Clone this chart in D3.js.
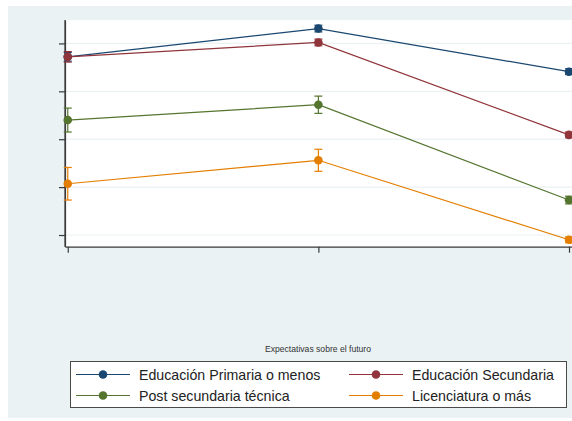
<!DOCTYPE html>
<html>
<head>
<meta charset="utf-8">
<script src="https://cdn.jsdelivr.net/npm/d3@7"></script>
<style>
  html, body { margin: 0; padding: 0; background: #ffffff; }
  svg { display: block; font-family: "Liberation Sans", Arial, sans-serif; }
</style>
</head>
<body>
<svg id="chart" width="572" height="421"></svg>
<script>
// Categories on the x axis (three periods, unlabeled ticks)
const categories = [1, 2, 3];

// Series names and colours
const seriesNames = ["Educación Primaria o menos", "Educación Secundaria", "Post secundaria técnica", "Licenciatura o más"];
const seriesColors = ["#1a476f", "#90353b", "#55752f", "#e37e00"];

// Predicted values per series (one per category)
const primaria    = [4.72, 5.31, 4.41];
const secundaria  = [4.72, 5.02, 3.09];
const postsec     = [3.40, 3.72, 1.73];
const licenciatura = [2.07, 2.56, 0.90];

// Half-width of the confidence interval per series
const primariaCI    = [0.09, 0.07, 0.06];
const secundariaCI  = [0.11, 0.07, 0.06];
const postsecCI     = [0.25, 0.18, 0.08];
const licenciaturaCI = [0.34, 0.23, 0.06];

// Axis ticks (labels not shown)
const yTicks = [1, 2, 3, 4, 5];
const xTicks = [1, 2, 3];
const xTitle = "Expectativas sobre el futuro";

const seriesValues = [primaria, secundaria, postsec, licenciatura];
const seriesCI = [primariaCI, secundariaCI, postsecCI, licenciaturaCI];

const svg = d3.select("#chart");
const W = 572, H = 421;

// Graph background
svg.append("rect").attr("x", 8).attr("y", 6).attr("width", W - 8).attr("height", 412)
  .attr("fill", "#eaf2f3");

const plot = { left: 65, top: 20, right: 572, bottom: 246.7 };

// Plot region
svg.append("rect").attr("x", plot.left).attr("y", plot.top)
  .attr("width", plot.right - plot.left).attr("height", plot.bottom - plot.top)
  .attr("fill", "#ffffff");

const x = d3.scaleLinear().domain([0.989, 3.012]).range([plot.left, plot.right]);
const y = d3.scaleLinear().domain([0.756, 5.489]).range([plot.bottom, plot.top]);

// Gridlines
svg.append("g").selectAll("line").data(yTicks).join("line")
  .attr("x1", plot.left).attr("x2", plot.right)
  .attr("y1", d => y(d)).attr("y2", d => y(d))
  .attr("stroke", "#eaf2f3").attr("stroke-width", 1.2);

// Y axis
const yAxis = svg.append("g").attr("transform", `translate(${plot.left},0)`)
  .call(d3.axisLeft(y).tickValues(yTicks).tickFormat("").tickSize(6).tickSizeOuter(0));
yAxis.select(".domain").attr("stroke", "#3a3a3a").attr("stroke-width", 1.2);
yAxis.selectAll(".tick line").attr("stroke", "#3a3a3a").attr("stroke-width", 1.2);

// X axis
const xAxis = svg.append("g").attr("transform", `translate(0,${plot.bottom})`)
  .call(d3.axisBottom(x).tickValues(xTicks).tickFormat("").tickSize(6).tickSizeOuter(0));
xAxis.select(".domain").attr("stroke", "#3a3a3a").attr("stroke-width", 1.2);
xAxis.selectAll(".tick line").attr("stroke", "#3a3a3a").attr("stroke-width", 1.2);

// Y axis line drawn over the x axis start
svg.append("line").attr("x1", plot.left).attr("x2", plot.left)
  .attr("y1", plot.top).attr("y2", plot.bottom)
  .attr("stroke", "#3a3a3a").attr("stroke-width", 1.2);

// Series
const line = d3.line().x((d, i) => x(categories[i])).y(d => y(d));
const capHalf = 4;

seriesValues.forEach((vals, s) => {
  const g = svg.append("g");
  const col = seriesColors[s];
  g.append("path").datum(vals).attr("d", line)
    .attr("fill", "none").attr("stroke", col).attr("stroke-width", 1.2);

  const ci = seriesCI[s];
  const eb = g.append("g").selectAll("g").data(vals).join("g");
  eb.append("line")
    .attr("x1", (d, i) => x(categories[i])).attr("x2", (d, i) => x(categories[i]))
    .attr("y1", (d, i) => y(d - ci[i])).attr("y2", (d, i) => y(d + ci[i]))
    .attr("stroke", col).attr("stroke-width", 1.2);
  eb.append("line")
    .attr("x1", (d, i) => x(categories[i]) - capHalf).attr("x2", (d, i) => x(categories[i]) + capHalf)
    .attr("y1", (d, i) => y(d - ci[i])).attr("y2", (d, i) => y(d - ci[i]))
    .attr("stroke", col).attr("stroke-width", 1.2);
  eb.append("line")
    .attr("x1", (d, i) => x(categories[i]) - capHalf).attr("x2", (d, i) => x(categories[i]) + capHalf)
    .attr("y1", (d, i) => y(d + ci[i])).attr("y2", (d, i) => y(d + ci[i]))
    .attr("stroke", col).attr("stroke-width", 1.2);

  g.append("g").selectAll("circle").data(vals).join("circle")
    .attr("cx", (d, i) => x(categories[i])).attr("cy", d => y(d))
    .attr("r", 4.3).attr("fill", col);
});

// X axis title
svg.append("text").attr("x", 318).attr("y", 351.5)
  .attr("text-anchor", "middle").attr("font-size", 8.6).attr("fill", "#333")
  .text(xTitle);

// Legend
const legend = svg.append("g");
legend.append("rect").attr("x", 70.5).attr("y", 361.5).attr("width", 496).attr("height", 46)
  .attr("fill", "#ffffff").attr("stroke", "#4a4a4a").attr("stroke-width", 1);

const legendPos = [
  { x0: 76, y0: 374.5 }, { x0: 349, y0: 374.5 },
  { x0: 76, y0: 395.5 }, { x0: 349, y0: 395.5 }
];
seriesNames.forEach((name, s) => {
  const p = legendPos[s];
  const col = seriesColors[s];
  legend.append("line").attr("x1", p.x0).attr("x2", p.x0 + 54)
    .attr("y1", p.y0).attr("y2", p.y0).attr("stroke", col).attr("stroke-width", 1.2);
  legend.append("circle").attr("cx", p.x0 + 27).attr("cy", p.y0).attr("r", 4.3).attr("fill", col);
  legend.append("text").attr("x", p.x0 + 63).attr("y", p.y0 + 5)
    .attr("font-size", 14.2).attr("fill", "#222").text(name);
});
</script>
</body>
</html>
